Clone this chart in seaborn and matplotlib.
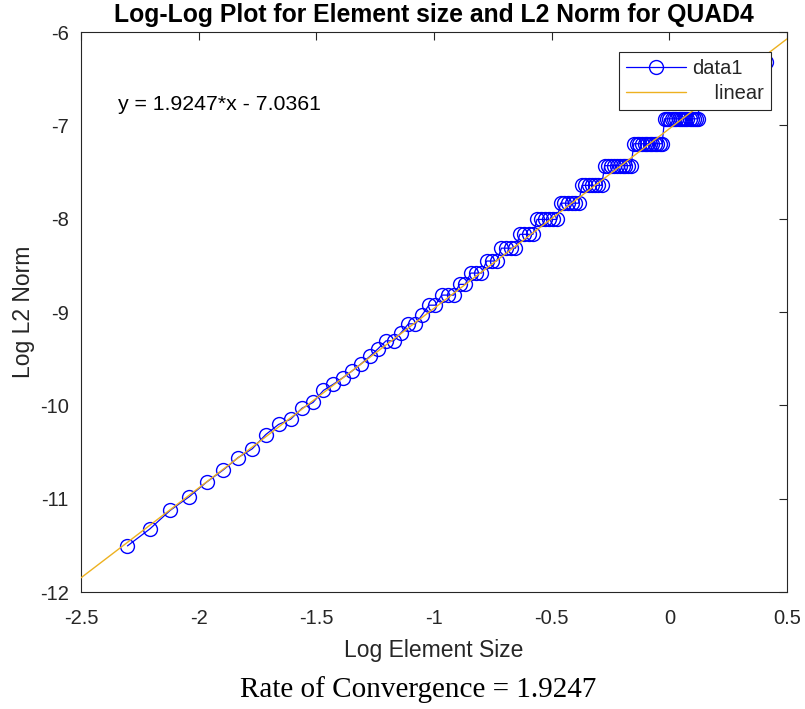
import matplotlib
matplotlib.use("Agg")
import matplotlib.pyplot as plt
import seaborn as sns
import numpy as np
import pandas as pd

# ---- data ----
log_elem_size = [
    -2.3026, -2.2073, -2.1203, -2.0402, -1.9661, -1.8971, -1.8326, -1.7720, -1.7148, -1.6607,
    -1.6094, -1.5606, -1.5141, -1.4697, -1.4271, -1.3863, -1.3471, -1.3093, -1.2730, -1.2379,
    -1.2040, -1.1712, -1.1394, -1.1087, -1.0788, -1.0498, -1.0217, -0.9943, -0.9676, -0.9416,
    -0.9163, -0.8916, -0.8675, -0.8440, -0.8210, -0.7985, -0.7765, -0.7550, -0.7340, -0.7133,
    -0.6931, -0.6733, -0.6539, -0.6349, -0.6162, -0.5978, -0.5798, -0.5621, -0.5447, -0.5276,
    -0.5108, -0.4943, -0.4780, -0.4620, -0.4463, -0.4308, -0.4155, -0.4005, -0.3857, -0.3711,
    -0.3567, -0.3425, -0.3285, -0.3147, -0.3011, -0.2877, -0.2744, -0.2614, -0.2485, -0.2357,
    -0.2231, -0.2107, -0.1985, -0.1863, -0.1744, -0.1625, -0.1508, -0.1393, -0.1278, -0.1165,
    -0.1054, -0.0943, -0.0834, -0.0726, -0.0619, -0.0513, -0.0408, -0.0305, -0.0202, -0.0101,
    0.0000, 0.0100, 0.0198, 0.0296, 0.0392, 0.0488, 0.0583, 0.0677, 0.0770, 0.0862,
    0.0953, 0.1044, 0.1133, 0.1222, 0.1310, 0.1398, 0.1484, 0.1570, 0.1655, 0.1740,
    0.1823, 0.1906, 0.1989, 0.2070, 0.2151, 0.2231, 0.2311, 0.2390, 0.2469, 0.2546,
    0.2624, 0.2700, 0.2776, 0.2852, 0.2927, 0.3001, 0.3075, 0.3148, 0.3221, 0.3293,
    0.3365, 0.3436, 0.3507, 0.3577, 0.3646, 0.3716, 0.3784, 0.3853, 0.3920, 0.3988,
    0.4100,
]

log_l2_norm = [
    -11.506, -11.324, -11.124, -10.979, -10.822, -10.695, -10.560, -10.465, -10.313, -10.205,
    -10.149, -10.031, -9.969, -9.840, -9.773, -9.702, -9.630, -9.554, -9.476, -9.394,
    -9.309, -9.309, -9.220, -9.127, -9.127, -9.029, -8.927, -8.927, -8.819, -8.819,
    -8.819, -8.704, -8.704, -8.583, -8.583, -8.583, -8.454, -8.454, -8.454, -8.316,
    -8.316, -8.316, -8.316, -8.168, -8.168, -8.168, -8.168, -8.008, -8.008, -8.008,
    -8.008, -8.008, -8.008, -7.834, -7.834, -7.834, -7.834, -7.834, -7.834, -7.643,
    -7.643, -7.643, -7.643, -7.643, -7.643, -7.643, -7.432, -7.432, -7.432, -7.432,
    -7.432, -7.432, -7.432, -7.432, -7.432, -7.432, -7.197, -7.197, -7.197, -7.197,
    -7.197, -7.197, -7.197, -7.197, -7.197, -7.197, -7.197, -7.197, -6.930, -6.930,
    -6.930, -6.930, -6.930, -6.930, -6.930, -6.930, -6.930, -6.930, -6.930, -6.930,
    -6.930, -6.930, -6.930, -6.930, -6.622, -6.622, -6.622, -6.622, -6.622, -6.622,
    -6.622, -6.622, -6.622, -6.622, -6.622, -6.622, -6.622, -6.622, -6.622, -6.622,
    -6.622, -6.622, -6.622, -6.622, -6.622, -6.622, -6.622, -6.320, -6.320, -6.320,
    -6.320, -6.320, -6.320, -6.320, -6.320, -6.320, -6.320, -6.320, -6.320, -6.320,
    -6.320,
]

fit_slope = 1.9247
fit_intercept = -7.0361
rate = 1.9247

x_ticks = [-2.5, -2, -1.5, -1, -0.5, 0, 0.5]
x_tick_labels = ["-2.5", "-2", "-1.5", "-1", "-0.5", "0", "0.5"]
y_ticks = [-12, -11, -10, -9, -8, -7, -6]
y_tick_labels = ["-12", "-11", "-10", "-9", "-8", "-7", "-6"]

# ---- styling ----
sns.set_style("white")
plt.rcParams["font.family"] = ["Liberation Sans", "DejaVu Sans"]
plt.rcParams["axes.unicode_minus"] = False

W, H = 805, 709
L, R, T, B = 81, 787, 32, 592
fig = plt.figure(figsize=(W / 100, H / 100), dpi=100)
ax = fig.add_axes([L / W, 1 - B / H, (R - L) / W, (B - T) / H])

df = pd.DataFrame({"x": log_elem_size, "y": log_l2_norm})
sns.lineplot(data=df, x="x", y="y", sort=False, estimator=None, ax=ax,
             color="#0000ff", linewidth=0.9, marker="o", markersize=10,
             markerfacecolor="none", markeredgecolor="#0000ff", markeredgewidth=1.0,
             label="data1", zorder=2)

xlim = (x_ticks[0], x_ticks[-1])
fit_df = pd.DataFrame({"x": list(xlim)})
fit_df["y"] = fit_slope * fit_df["x"] + fit_intercept
sns.lineplot(data=fit_df, x="x", y="y", ax=ax, color="#EDB120", linewidth=1.0,
             label="    linear", zorder=3)

ax.set_xlim(*xlim)
ax.set_ylim(y_ticks[0], y_ticks[-1])
ax.set_xticks(x_ticks)
ax.set_xticklabels(x_tick_labels)
ax.set_yticks(y_ticks)
ax.set_yticklabels(y_tick_labels)
ax.tick_params(direction="in", length=6, width=0.8, top=True, right=True,
               labelsize=14.5, colors="#262626")
ax.tick_params(axis="x", pad=12)
ax.tick_params(axis="y", pad=9)
for s in ax.spines.values():
    s.set_color("#262626")
    s.set_linewidth(0.8)

ax.set_xlabel("Log Element Size", fontsize=16.5, color="#262626", labelpad=8)
ax.set_ylabel("Log L2 Norm", fontsize=16.5, color="#262626", labelpad=3.5)
ax.set_title("Log-Log Plot for Element size and L2 Norm for QUAD4",
             fontsize=17.8, fontweight="bold", color="black", pad=7)

ax.text(-2.343, -6.772, f"y = {fit_slope}*x - {abs(fit_intercept)}", fontsize=15.3,
        va="center", ha="left", color="black")

leg = ax.legend(loc="upper right", bbox_to_anchor=(1 - 16 / (R - L), 1 - 20 / (B - T)),
                borderaxespad=0, fancybox=False, framealpha=1, edgecolor="#262626",
                fontsize=14.5, handlelength=3.0, borderpad=0.35, labelspacing=0.3,
                handletextpad=0.3)
leg.get_frame().set_linewidth(0.8)
leg.set_zorder(10)

fig.text(418 / W, 1 - 690 / H, f"Rate of Convergence = {rate}",
         fontsize=21, family=["Liberation Serif", "DejaVu Serif"],
         ha="center", va="center", color="black")

fig.savefig("out.png", dpi=100)
